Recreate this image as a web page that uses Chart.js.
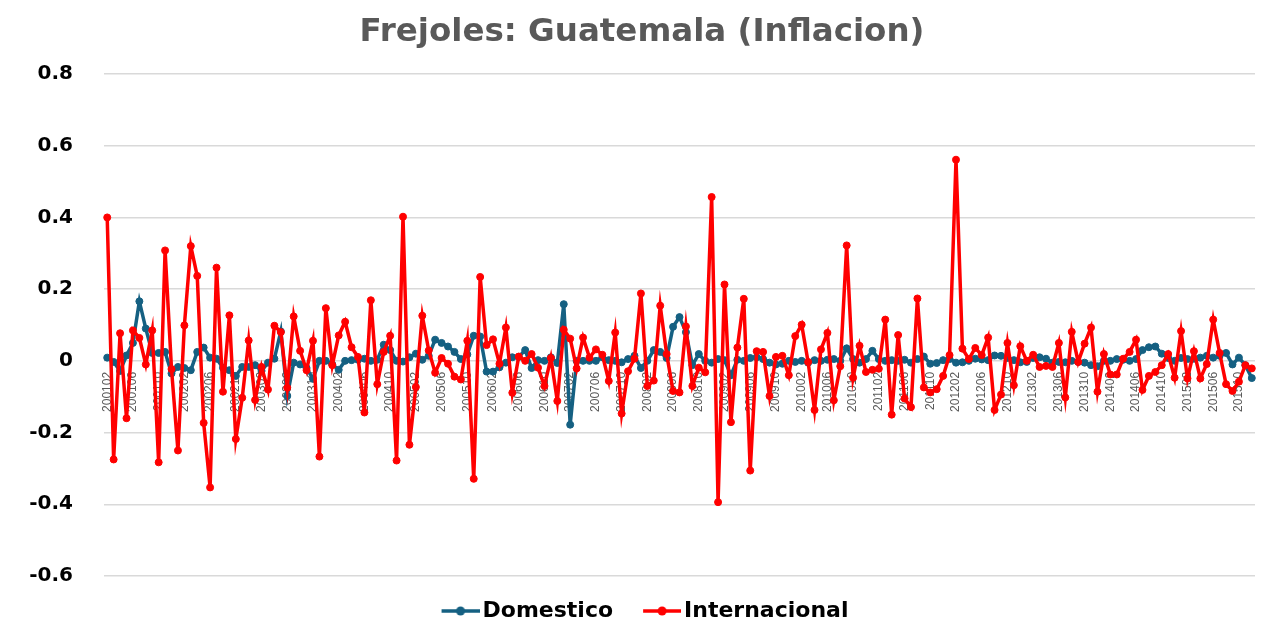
<!DOCTYPE html>
<html>
<head>
<meta charset="utf-8">
<script src="https://cdn.jsdelivr.net/npm/chart.js@4.4.1/dist/chart.umd.min.js"></script>
<style>
  html, body { margin: 0; padding: 0; background: #fff; }
  #wrap { width: 1271px; height: 628px; }
</style>
</head>
<body>
<div id="wrap"><canvas id="chart" width="1271" height="628"></canvas></div>
<script>
// ── Data ────────────────────────────────────────────────────────────
const startYear = 2001, startMonth = 2, monthCount = 179;
const months = [];
for (let k = 0; k < monthCount; k++) {
  const m = startMonth - 1 + k;
  const y = startYear + Math.floor(m / 12);
  months.push(String(y) + String(m % 12 + 1).padStart(2, '0'));
}

const domestico = [
  0.009, -0.003, -0.028, 0.015, 0.05, 0.166, 0.09, 0.022, 0.022, 0.025, -0.035,
  -0.017, -0.02, -0.026, 0.025, 0.037, 0.009, 0.006, -0.019, -0.026, -0.042, -0.017, -0.017, -0.012,
  -0.028, -0.005, 0.006, 0.082, -0.098, -0.005, -0.01, -0.02, -0.05, 0.0, 0.0, -0.01,
  -0.025, 0.0, 0.002, 0.003, 0.006, 0.0, 0.003, 0.045, 0.03, 0.0, -0.002, 0.01,
  0.02, 0.003, 0.014, 0.059, 0.05, 0.04, 0.025, 0.005, 0.018, 0.07, 0.068, -0.03,
  -0.03, -0.018, -0.005, 0.01, 0.011, 0.03, -0.02, 0.002, 0.0, 0.01, -0.006, 0.158,
  -0.178, 0.0, 0.0, 0.0, 0.0, 0.01, 0.002, 0.0, -0.004, 0.005, 0.014, -0.02,
  0.0, 0.03, 0.025, 0.008, 0.095, 0.122, 0.08, -0.012, 0.019, 0.0, -0.005, 0.005,
  0.002, -0.04, 0.003, 0.0, 0.008, 0.01, 0.005, -0.005, -0.01, -0.008, 0.0, -0.003,
  0.0, -0.005, 0.002, 0.0, 0.003, 0.005, 0.0, 0.035, 0.005, -0.005, 0.005, 0.028,
  0.005, 0.0, 0.002, 0.0, 0.003, -0.005, 0.005, 0.012, -0.008, -0.006, 0.002, 0.005,
  -0.005, -0.004, 0.0, 0.006, 0.004, 0.002, 0.015, 0.014, 0.008, 0.002, -0.004, -0.003,
  0.008, 0.01, 0.006, -0.005, -0.003, -0.004, 0.0, -0.003, -0.005, -0.012, -0.015, 0.0,
  0.0, 0.005, 0.003, 0.0, 0.005, 0.03, 0.038, 0.04, 0.02, 0.008, 0.0, 0.008,
  0.005, 0.006, 0.009, 0.014, 0.009, 0.014, 0.022, -0.01, 0.009, -0.012, -0.048
];

const internacional = [
  0.40, -0.275, 0.077, -0.16, 0.085, 0.064, -0.01, 0.085, -0.283, 0.308, -0.023,
  -0.25, 0.099, 0.32, 0.237, -0.173, -0.353, 0.26, -0.086, 0.127, -0.218, -0.103, 0.057, -0.109,
  -0.017, -0.08, 0.098, 0.08, -0.075, 0.124, 0.028, -0.026, 0.056, -0.267, 0.147, -0.012,
  0.071, 0.109, 0.038, 0.011, -0.144, 0.169, -0.065, 0.025, 0.07, -0.278, 0.402, -0.234,
  -0.073, 0.126, 0.029, -0.033, 0.008, -0.008, -0.044, -0.052, 0.056, -0.329, 0.234, 0.044,
  0.06, -0.008, 0.093, -0.089, 0.012, 0.0, 0.019, -0.019, -0.07, 0.008, -0.112, 0.087,
  0.062, -0.021, 0.065, 0.009, 0.032, 0.017, -0.056, 0.079, -0.147, -0.029, 0.006, 0.188,
  -0.07, -0.055, 0.154, 0.019, -0.084, -0.088, 0.096, -0.07, -0.019, -0.032, 0.457, -0.394,
  0.213, -0.171, 0.037, 0.173, -0.306, 0.027, 0.025, -0.098, 0.011, 0.014, -0.04, 0.069,
  0.101, -0.003, -0.137, 0.032, 0.078, -0.11, -0.015, 0.322, -0.047, 0.042, -0.031, -0.025,
  -0.022, 0.115, -0.15, 0.072, -0.105, -0.129, 0.174, -0.074, -0.088, -0.079, -0.042, 0.016,
  0.561, 0.034, 0.005, 0.036, 0.016, 0.065, -0.137, -0.094, 0.05, -0.068, 0.041, 0.0,
  0.017, -0.017, -0.014, -0.017, 0.05, -0.102, 0.081, -0.003, 0.048, 0.093, -0.086, 0.019,
  -0.038, -0.038, 0.006, 0.025, 0.059, -0.081, -0.042, -0.031, -0.012, 0.019, -0.047, 0.083,
  -0.049, 0.027, -0.049, -0.009, 0.115, 0.022, -0.065, -0.084, -0.058, -0.012, -0.021
];

const yTicks = { min: -0.6, max: 0.8, step: 0.2 };
const labelEvery = 4;

const BLUE = '#156082';
const RED = '#ff0000';

// ── Legend mark: short line with a dot ─────────────────────────────
function legendMark(color) {
  const c = document.createElement('canvas');
  c.width = 52; c.height = 12;
  const g = c.getContext('2d');
  g.strokeStyle = color;
  g.lineWidth = 3.5;
  g.beginPath(); g.moveTo(14, 6); g.lineTo(52, 6); g.stroke();
  g.fillStyle = color;
  g.beginPath(); g.arc(33, 6, 4.5, 0, Math.PI * 2); g.fill();
  return c;
}

// ── Chart ───────────────────────────────────────────────────────────
const ctx = document.getElementById('chart').getContext('2d');
new Chart(ctx, {
  type: 'line',
  data: {
    labels: months,
    datasets: [
      { label: 'Domestico', data: domestico, borderColor: BLUE, backgroundColor: BLUE,
        borderWidth: 3.5, pointRadius: 3.5, pointBorderWidth: 1, tension: 0, order: 1 },
      { label: 'Internacional', data: internacional, borderColor: RED, backgroundColor: RED,
        borderWidth: 3.5, pointRadius: 3.5, pointBorderWidth: 1, tension: 0, order: 0 }
    ]
  },
  options: {
    responsive: false,
    animation: false,
    devicePixelRatio: 1,
    layout: { padding: { left: 29, right: 16, top: 0, bottom: -4 } },
    plugins: {
      title: {
        display: true,
        text: 'Frejoles: Guatemala (Inflacion)',
        color: '#595959',
        font: { family: 'DejaVu Sans', size: 32.5, weight: 'bold' },
        padding: { top: 13, bottom: 22 }
      },
      legend: {
        position: 'bottom',
        labels: {
          usePointStyle: true,
          pointStyleWidth: 36,
          padding: 24,
          color: '#000',
          font: { family: 'DejaVu Sans', size: 22, weight: 'bold' },
          sort: (a, b) => a.datasetIndex - b.datasetIndex,
          generateLabels: chart => {
            const items = Chart.defaults.plugins.legend.labels.generateLabels(chart);
            items.forEach(it => {
              it.pointStyle = legendMark(chart.data.datasets[it.datasetIndex].borderColor);
            });
            return items;
          }
        }
      },
      tooltip: { enabled: false }
    },
    scales: {
      x: {
        type: 'category',
        position: { y: 0 },
        offset: true,
        grid: { display: false },
        border: { display: false },
        ticks: {
          autoSkip: false,
          minRotation: 90,
          maxRotation: 90,
          padding: 3,
          color: '#595959',
          font: { family: 'Liberation Sans', size: 12 },
          callback: function (val, i) { return i % labelEvery === 0 ? this.getLabelForValue(val) : ''; }
        }
      },
      y: {
        min: yTicks.min,
        max: yTicks.max,
        afterFit: scale => { scale.width = 75; },
        grid: { color: '#d9d9d9', lineWidth: 1.5, drawTicks: false },
        border: { display: false },
        ticks: {
          stepSize: yTicks.step,
          padding: 31,
          color: '#000',
          font: { family: 'DejaVu Sans', size: 20, weight: 'bold' },
          callback: v => String(Number(v.toFixed(1)))
        }
      }
    }
  }
});
</script>
</body>
</html>
